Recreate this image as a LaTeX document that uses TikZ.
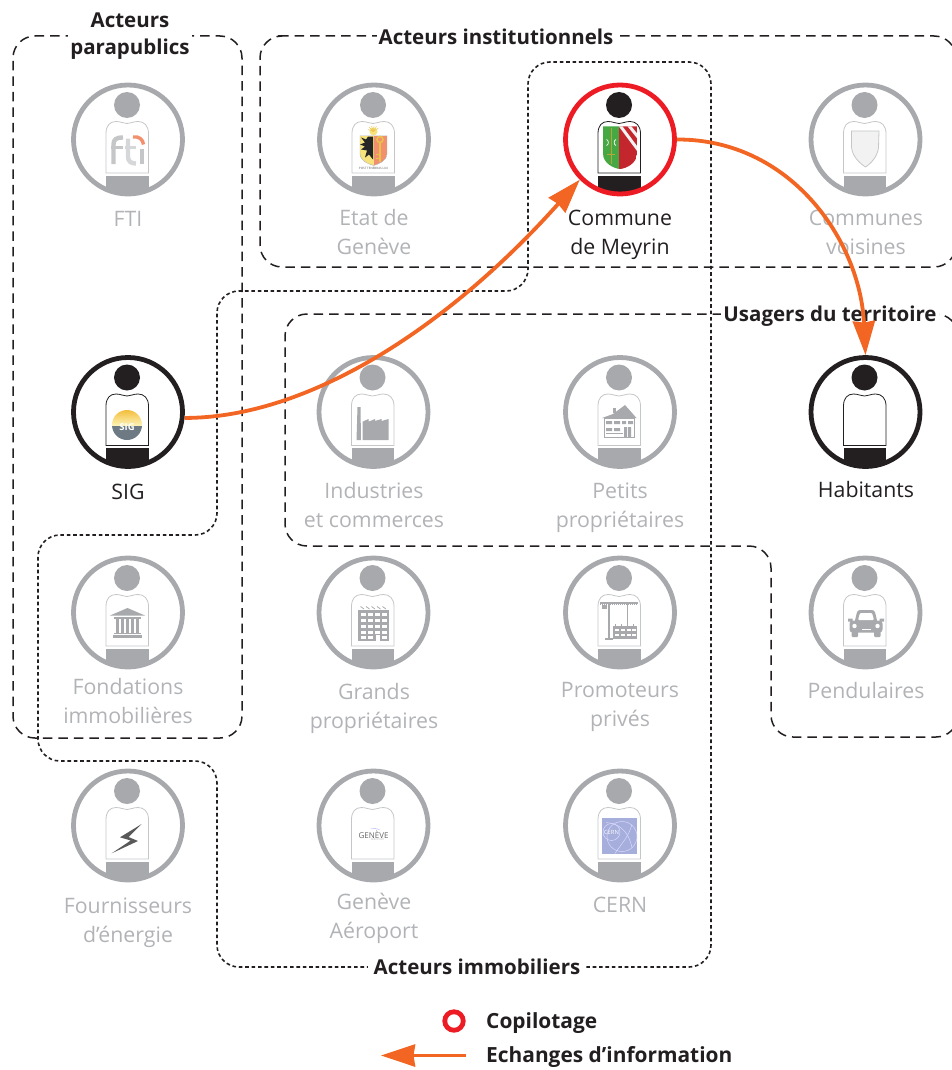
\documentclass[tikz,border=0pt]{standalone}
\usepackage{fontspec}
\setmainfont{Open Sans}
\usetikzlibrary{arrows.meta}
\definecolor{grayA}{HTML}{A7A9AC}
\definecolor{grayT}{HTML}{B1B3B6}
\definecolor{grayL}{HTML}{C4C6C8}
\definecolor{inkK}{HTML}{231F20}
\definecolor{redR}{HTML}{ED1C24}
\definecolor{orangeO}{HTML}{F26522}
\definecolor{gvaY}{HTML}{F7E27C}
\definecolor{gvaR}{HTML}{F28F6C}
\definecolor{gvaK}{HTML}{E9C24A}
\definecolor{meyG}{HTML}{45A843}
\definecolor{meyR}{HTML}{C4262E}
\definecolor{meyS}{HTML}{B9A53A}
\definecolor{sigS}{HTML}{6D7A84}
\definecolor{sigT}{HTML}{F3BE3C}
\definecolor{sigB}{HTML}{FDF3B8}
\definecolor{cernB}{HTML}{A6AEDB}
\tikzset{
  ring/.style={circle,minimum size=109pt,inner sep=0pt,line width=4.8pt},
  lbl/.style={font=\fontsize{21.3}{29}\selectfont,align=center,text=grayT,inner sep=0pt},
  lblk/.style={font=\fontsize{21.3}{29}\selectfont,align=center,text=inkK,inner sep=0pt},
  ttl/.style={font=\fontsize{20.5}{27}\selectfont\bfseries,align=center,text=inkK,fill=white,inner xsep=2pt,inner ysep=1pt},
  legtxt/.style={font=\fontsize{20.9}{27}\selectfont\bfseries,text=inkK,inner sep=0pt,anchor=west},
  longdash/.style={draw=inkK,line width=1.5pt,dash pattern=on 9.5pt off 6pt,rounded corners=22pt},
  shortdash/.style={draw=inkK,line width=1.6pt,dash pattern=on 3.6pt off 2.8pt,rounded corners=22pt},
  flow/.style={draw=orangeO,line width=3.8pt,-{Stealth[length=34pt,width=22pt,inset=1.5pt]}},
}
% actor: name, x, y, ring colour, figure colour, body outline colour, logo
\newcommand{\actorpic}[7]{%
  \begin{scope}[shift={(#2,#3)}]
    \begin{scope}
      \clip (0,0) circle[radius=55];
      \fill[#5] (-22,36) rectangle (20.5,60);
    \end{scope}
    \fill[#5] (-1,-34.5) circle[radius=13];
    \draw[#6,line width=0.8pt,rounded corners=0pt] (-22,33.5) -- (-22,-6) .. controls (-22,-14) and (-18,-18) .. (-12,-18) .. controls (-7,-18) and (-5,-16) .. (-1,-16) .. controls (3,-16) and (5,-18) .. (10,-18) .. controls (16,-18) and (20.5,-14) .. (20.5,-6) -- (20.5,33.5) -- cycle;
    #7
  \end{scope}
  \node[ring,draw=#4] (#1) at (#2,#3) {};
}
\newcommand{\logofti}{%
  \draw[line width=4.4pt,grayL] (-14.5,24.5) -- (-14.5,5) .. controls (-14.5,0) and (-12,-2) .. (-5,-2);
  \draw[line width=3.6pt,grayL] (-17,8) -- (-5,8);
  \draw[line width=4.4pt,grayL!70] (0,-1) -- (0,17) .. controls (0,22) and (3,24) .. (8,24);
  \draw[line width=3.4pt,grayL!70] (-3,8) -- (8,8);
  \draw[line width=4.4pt,grayL] (14,9) -- (14,24.5);
  \draw[line width=3.4pt,gvaR] (5,-2.5) .. controls (11,-3.5) and (15,0) .. (15.5,5);
}
\newcommand{\logogva}{%
  \fill[gvaY] (-0.5,-8) circle[radius=4];
  \foreach \a in {200,225,...,340}{\draw[gvaK,line width=0.4pt] (-0.5,-8) -- ++(\a:6);}
  \begin{scope}
    \clip (-14,-4) -- (13,-4) -- (13,14) .. controls (13,22) and (3,25) .. (-0.5,26) .. controls (-4,25) and (-14,22) .. (-14,14) -- cycle;
    \fill[gvaY] (-14,-4) rectangle (-0.5,26);
    \fill[gvaR] (-0.5,-4) rectangle (13,26);
    \fill[black!85] (-13,-2) -- (-8,0) -- (-6,-3) -- (-1,-3) -- (-1,20) -- (-5,15) -- (-9,18) -- (-7,11) -- (-13,10) -- (-9,7) -- (-14,5) -- (-9,3) -- cycle;
    \draw[gvaK,line width=1.6pt] (6,0) circle[radius=3];
    \draw[gvaK,line width=1.8pt] (6,3) -- (6,22);
    \draw[gvaK,line width=1.5pt] (6,15) -- (2,15) (6,19) -- (2,19);
  \end{scope}
  \draw[grayT,line width=0.4pt] (-14,-4) -- (13,-4) -- (13,14) .. controls (13,22) and (3,25) .. (-0.5,26) .. controls (-4,25) and (-14,22) .. (-14,14) -- cycle;
  \node[inner sep=0pt,text=black!65,font=\fontsize{3}{3}\selectfont] (gvamotto) at (-0.5,29) {POST TENEBRAS LUX};
}
\newcommand{\logomey}{%
  \begin{scope}
    \clip (-17,-13) -- (17,-13) -- (17,14) .. controls (17,24) and (6,29) .. (0,29.5) .. controls (-6,29) and (-17,24) .. (-17,14) -- cycle;
    \fill[meyG] (-17,-13) rectangle (-1,30);
    \fill[meyR] (-1,-13) rectangle (17,30);
    \draw[white!90!gray,line width=3pt] (0,-14) -- (20,13);
    \draw[white!90!gray,line width=3pt] (8,-15) -- (20,0);
  \end{scope}
  \draw[meyS,line width=0.9pt] (-9,-11) -- (-9,24);
  \draw[meyS,line width=1.2pt] (-13,15) -- (-5,15);
  \draw[white,line width=0.7pt] (-13.5,0) .. controls (-11,1) and (-11,5) .. (-13.5,6);
  \draw[white,line width=0.7pt] (-4,0) .. controls (-6.5,1) and (-6.5,5) .. (-4,6);
}
\newcommand{\logoblank}{%
  \fill[black!5] (-14,-8.5) -- (13.5,-8.5) -- (13,8) .. controls (12,18) and (4,25) .. (0,27.5) .. controls (-4,25) and (-13,18) .. (-14,8) -- cycle;
  \draw[grayL,line width=0.8pt] (-14,-8.5) -- (13.5,-8.5) -- (13,8) .. controls (12,18) and (4,25) .. (0,27.5) .. controls (-4,25) and (-13,18) .. (-14,8) -- cycle;
}
\newcommand{\logosig}{%
  \begin{scope}
    \clip (-1,13) circle[radius=15];
    \shade[top color=sigT,bottom color=sigB] (-16,-2) rectangle (14,13.5);
    \fill[sigS] (-16,13.5) rectangle (14,28);
  \end{scope}
  \node[inner sep=0pt,text=white,font=\fontsize{9.5}{10}\selectfont\bfseries] (siglogo) at (-1,15.5) {SIG};
}
\newcommand{\logofactory}{%
  \fill[grayA] (-17,28) -- (-16,-5) -- (-13,-5) -- (-12.5,28) -- cycle;
  \fill[grayA] (-11,28) -- (-11,9.7) -- (-5,7) -- (-5,9.7) -- (1.5,7) -- (1.5,9) -- (8,7) -- (8,9) -- (15,7) -- (15,28) -- cycle;
}
\newcommand{\logohouse}{%
  \fill[grayA] (-7.5,1) rectangle (-4.5,-4);
  \fill[grayA] (-18,6) -- (-7,2) -- (5,-7) -- (16.5,6) -- cycle;
  \draw[grayA,line width=0.9pt,fill=white] (-15.5,6) rectangle (14.5,25);
  \fill[grayA] (-14,9) rectangle (-8,12) (-6,9) rectangle (0,12) (2,9) rectangle (6,12) (8,9) rectangle (13,12);
  \fill[grayA] (-14,16) rectangle (-8,19) (-6,16) rectangle (0,19);
  \fill[grayA] (4,15) rectangle (7,25) (8,15) rectangle (11,25);
  \draw[grayA,line width=0.7pt] (-14,21.5) -- (3,21.5);
}
\newcommand{\logotemple}{%
  \fill[grayA] (-18,3) -- (-0.5,-4.5) -- (17,3) -- cycle;
  \fill[grayA] (-14,4.5) rectangle (13,6);
  \foreach \cx in {-12,-7,-2,3,8}{\fill[grayA] (\cx,6) rectangle ++(3,14);}
  \fill[grayA] (-14,20) rectangle (13,21.5);
  \fill[grayA] (-15,22.5) rectangle (14,25);
}
\newcommand{\logobuilding}{%
  \foreach \cx in {-13,-7.5,-2,3.5,9}{\draw[grayA,line width=0.8pt] (\cx,-6) -- ++(3.5,2.5);}
  \fill[grayA] (-15.5,-2.5) rectangle (15.5,28.5);
  \foreach \ry in {0,6,12,18}{\foreach \cx in {-13,-6,1,8}{\fill[white] (\cx,\ry) rectangle ++(5.5,3.2);}}
  \fill[white] (-13,23.5) rectangle ++(5.5,3.2);
  \fill[white] (-6,23.5) rectangle ++(5.5,3.2);
  \fill[white] (2,22) rectangle (6,28.5);
  \fill[white] (8,23.5) rectangle ++(5.5,3.2);
}
\newcommand{\logocrane}{%
  \draw[grayA,line width=1.6pt] (-20,-9.5) -- (18,-9.5);
  \draw[grayA,line width=0.5pt,dash pattern=on 1pt off 1pt] (-20,-8.5) -- (18,-8.5);
  \fill[grayA] (-18,-8) rectangle (-13,-3.5);
  \draw[grayA,line width=1.4pt] (-11,-9) -- (-11,26);
  \draw[grayA,line width=1.3pt] (-15,26.5) -- (-7,26.5);
  \draw[grayA,line width=0.5pt] (7,-8.5) -- (7,11);
  \fill[grayA] (-7,13) rectangle (17,26.5);
  \foreach \cx in {-5,1,7,12}{\fill[white] (\cx,16) rectangle ++(3.5,2.4);\fill[white] (\cx,21) rectangle ++(3.5,2.4);}
  \foreach \cx in {-5,1,7,12.5}{\fill[grayA] (\cx,11) rectangle ++(1.2,3);}
}
\newcommand{\logocar}{%
  \fill[grayA,rounded corners=2.5pt] (-11,10) -- (-8,-2.5) -- (9,-2.5) -- (12,10) -- cycle;
  \fill[grayA,rounded corners=3pt] (-16,8) rectangle (17,20);
  \fill[grayA,rounded corners=1pt] (-14,18) rectangle (-7.5,24.5);
  \fill[grayA,rounded corners=1pt] (8.5,18) rectangle (15,24.5);
  \fill[white,rounded corners=1pt] (-7.5,7.5) -- (-5.5,0.5) -- (6.5,0.5) -- (8.5,7.5) -- cycle;
  \fill[white] (-11,13.5) circle[radius=2.2] (12,13.5) circle[radius=2.2];
  \fill[white] (-4,16) rectangle (5,17.5);
  \fill[grayA] (-17.5,6) rectangle (-13,9) (14,6) rectangle (18.5,9);
}
\newcommand{\logobolt}{%
  \fill[black!65] (13.7,-1.5) -- (-8,11.8) -- (2.7,15) -- (-16.3,27.8) -- (10,15.5) -- (0.5,11.5) -- cycle;
}
\newcommand{\logogene}{%
  \draw[blue!35,line width=0.4pt] (-3,3.5) .. controls (0,2.5) and (3,3) .. (6,4);
  \node[inner sep=0pt,text=black!60,font=\fontsize{8}{8}\selectfont] (gnvword) at (0,9.5) {GENÈVE};
  \node[inner sep=0pt,text=grayT,font=\fontsize{2.6}{3}\selectfont] (gnvsub) at (4,14.5) {AEROPORT};
}
\newcommand{\logocern}{%
  \fill[cernB] (-18,-7.5) rectangle (17,28);
  \node[inner sep=0pt,text=white,font=\fontsize{5.8}{6}\selectfont] (cernword) at (-8.5,6.5) {CERN};
  \draw[white!85!blue,line width=0.5pt] (-8.5,6.5) circle[radius=8.5];
  \draw[white!85!blue,line width=0.5pt] (2,11) circle[radius=15];
  \draw[white!85!blue,line width=0.5pt] (-5,28) .. controls (3,16) and (8,12) .. (12,-1);
  \draw[white!85!blue,line width=0.5pt] (-14,-3) .. controls (-2,-2) and (8,4) .. (12,22);
}
\begin{document}
\begin{tikzpicture}[x=1pt,y=-1pt]
\useasboundingbox (0,0) rectangle (952,1070);
\begin{scope}
\clip (0,0) rectangle (952,1070);
% long-dash groups
\draw[longdash] (128,36) -- (13,36) -- (13,738) -- (242,738) -- (242,36) -- cycle;
\draw[longdash] (300,36) -- (260,36) -- (260,267) -- (956,267) -- (956,36) -- cycle;
\draw[longdash] (500,314) -- (285,314) -- (285,546) -- (771,546) -- (771,737) -- (958,737) -- (958,314) -- cycle;
\node[ttl] (tpara) at (130,36) {Acteurs\\parapublics};
\node[ttl] (tinst) at (496,37) {Acteurs institutionnels};
\node[ttl] (tusag) at (830,316) {Usagers du territoire};
% dotted group
\draw[shortdash] (450,967) -- (217,967) -- (217,761) -- (38,761) -- (38,535) -- (217,535) -- (217,291) -- (528,291) -- (528,62) -- (711,62) -- (711,967) -- cycle;
\node[ttl,inner xsep=6pt] (timmo) at (477,967) {Acteurs immobiliers};
\end{scope}
% actors
\actorpic{fti}{128}{139.5}{grayA}{grayA}{grayL}{\logofti}
\actorpic{etat}{374}{139.5}{grayA}{grayA}{grayL}{\logogva}
\actorpic{meyrin}{620}{139.5}{redR}{inkK}{inkK}{\logomey}
\actorpic{voisines}{865.5}{139.5}{grayA}{grayA}{grayL}{\logoblank}
\actorpic{sig}{128}{412}{inkK}{inkK}{inkK}{\logosig}
\actorpic{indus}{373.5}{412}{grayA}{grayA}{grayL}{\logofactory}
\actorpic{petits}{620}{412}{grayA}{grayA}{grayL}{\logohouse}
\actorpic{habitants}{865.5}{412}{inkK}{inkK}{inkK}{}
\actorpic{fond}{128}{612.5}{grayA}{grayA}{grayL}{\logotemple}
\actorpic{grands}{373.5}{612.5}{grayA}{grayA}{grayL}{\logobuilding}
\actorpic{promo}{620}{612.5}{grayA}{grayA}{grayL}{\logocrane}
\actorpic{pend}{865.5}{612.5}{grayA}{grayA}{grayL}{\logocar}
\actorpic{fourn}{128}{825.5}{grayA}{grayA}{grayL}{\logobolt}
\actorpic{aero}{373.5}{825.5}{grayA}{grayA}{grayL}{\logogene}
\actorpic{cern}{620}{825.5}{grayA}{grayA}{grayL}{\logocern}
% labels
\node[lbl] (lfti) at (128,219) {FTI};
\node[lbl] (letat) at (374,232.5) {Etat de\\Genève};
\node[lblk] (lmey) at (620,234.5) {Commune\\de Meyrin};
\node[lbl] (lvois) at (866,232.5) {Communes\\voisines};
\node[lblk] (lsig) at (128,492) {SIG};
\node[lbl] (lind) at (374,505.5) {Industries\\et commerces};
\node[lbl] (lpet) at (620,507.5) {Petits\\propriétaires};
\node[lblk] (lhab) at (866,490) {Habitants};
\node[lbl] (lfon) at (128,701.5) {Fondations\\immobilières};
\node[lbl] (lgra) at (374,708) {Grands\\propriétaires};
\node[lbl] (lpro) at (620,707) {Promoteurs\\privés};
\node[lbl] (lpen) at (866,690.5) {Pendulaires};
\node[lbl] (lfou) at (128,923) {Fournisseurs\\d’énergie};
\node[lbl] (laer) at (374,918.5) {Genève\\Aéroport};
\node[lbl] (lcer) at (620,905) {CERN};
% flows
\draw[flow] (sig.-6) .. controls (310,418) and (450,325) .. (meyrin.225);
\draw[flow] (meyrin.east) .. controls (790,139) and (860,240) .. (habitants.north);
% legend
\node[circle,draw=redR,line width=4.8pt,minimum size=18.5pt,inner sep=0pt] (legring) at (454,1021) {};
\node[legtxt] (legcop) at (486,1023) {Copilotage};
\node[legtxt] (legech) at (486,1057) {Echanges d’information};
\coordinate (legend) at (466,1055.5);
\coordinate (legtip) at (381,1055.5);
\draw[flow] (legend) -- (legtip);
\end{tikzpicture}
\end{document}
